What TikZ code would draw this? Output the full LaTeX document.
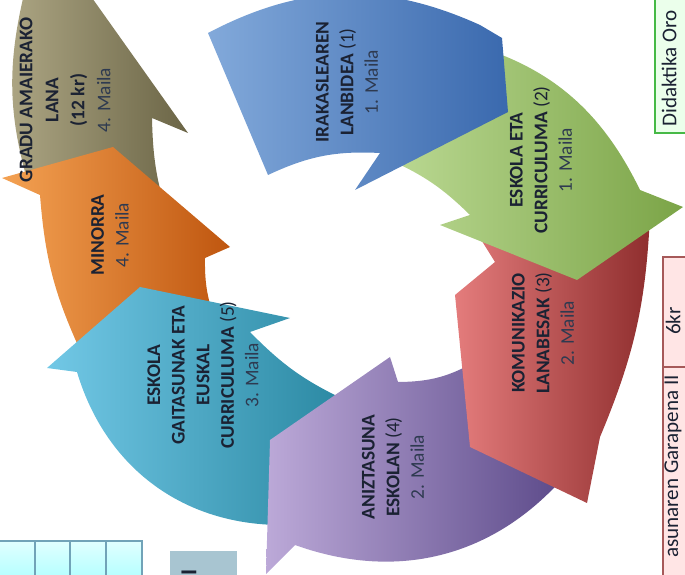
\documentclass[tikz,border=0pt]{standalone}
\usepackage{fontspec}
\setmainfont{Carlito}
\usetikzlibrary{positioning}
\definecolor{bluelt}{HTML}{82A9DA}
\definecolor{bluedk}{HTML}{3A69AE}
\definecolor{greenlt}{HTML}{BBD993}
\definecolor{greendk}{HTML}{7BA447}
\definecolor{redlt}{HTML}{E47C7C}
\definecolor{reddk}{HTML}{8F2E2E}
\definecolor{purplt}{HTML}{BCA9D8}
\definecolor{purpdk}{HTML}{5A4888}
\definecolor{teallt}{HTML}{72C8E6}
\definecolor{tealdk}{HTML}{2A88A2}
\definecolor{orglt}{HTML}{F4A253}
\definecolor{orgdk}{HTML}{BF560F}
\definecolor{goldlt}{HTML}{ADA684}
\definecolor{golddk}{HTML}{6B6546}
\definecolor{txtdk}{HTML}{1B2233}
\definecolor{mailatxt}{HTML}{2E3A50}
\tikzset{seg/.style args={#1 and #2}{left color=#1, right color=#2, draw=none}}
\tikzset{lbl/.style={rotate=90, align=center, text=txtdk, inner sep=0pt, font=\fontsize{11}{14}\selectfont}}
\tikzset{maila/.style={text=mailatxt}}
\tikzset{sidebox/.style={draw=#1, line width=0.8pt}}

\begin{document}
\begin{tikzpicture}[x=0.02cm, y=0.02cm]
	\useasboundingbox (0,0) rectangle (685,574);
	\clip (0,0) rectangle (685,574);
	% boxes cut off at the edges
	\draw[sidebox=green!45!gray, fill=green!8] (655,441) rectangle (700,590);
	\draw[sidebox=gray!70!red, fill=red!10] (663,-10) rectangle (700,317);
	\draw[sidebox=gray!70!red] (663,207) -- (700,207);
	\draw[sidebox=cyan!40!gray, top color=cyan!12, bottom color=cyan!30] (-5,-5) rectangle (142,33);
	\foreach \cx in {35,70,106}
		\draw[sidebox=cyan!40!gray] (\cx,-5) -- (\cx,33);
	\fill[cyan!35!gray!60] (170,-5) rectangle (237,23);
	%
	% the ring, last arrow first
	\path[seg=goldlt and golddk] (30,384) to[bend left=15] (25,584) -- (40,614) -- (85,586)
		-- (188,441) -- (152,456) to[bend right=10] (175,339) -- cycle;
	\path[seg=orglt and orgdk] (80,224) to[bend left=10] (40,379) -- (2,396) -- (113,427)
		-- (230,327) -- (205,316) to[bend right=10] (215,254) -- cycle;
	\path[seg=teallt and tealdk] (285,49) to[bend left=37] (77,202) -- (47,206) -- (140,287)
		-- (290,256) -- (250,242) to[bend right=10] (345,174) -- cycle;
	\path[seg=purplt and purpdk] (570,104) to[bend left=35] (295,29) -- (266,0) -- (270,134)
		-- (390,217) -- (398,192) to[bend right=15] (478,214) -- cycle;
	\path[seg=redlt and reddk] (650,359) to[bend left=10] (600,137) -- (587,71) -- (470,127)
		-- (455,279) -- (495,312) -- (480,336) -- cycle;
	\path[seg=greenlt and greendk] (455,534) to[bend left=25] (640,384) -- (683,367) -- (577,294)
		-- (440,349) -- (470,359) to[bend right=10] (390,414) -- cycle;
	\path[seg=bluelt and bluedk] (208,541) to[bend left=26] (480,549) -- (502,536) -- (508,462)
		-- (355,384) -- (380,421) to[bend right=14] (268,399) -- cycle;
	%
	\node[lbl] (s1) at (347,492) {\textbf{IRAKASLEAREN}\\\textbf{LANBIDEA} (1)\\{\color{mailatxt}1. Maila}};
	\node[lbl] (s2) at (541,414) {\textbf{ESKOLA ETA}\\\textbf{CURRICULUMA} (2)\\{\color{mailatxt}1. Maila}};
	\node[lbl] (s3) at (543,241) {\textbf{KOMUNIKAZIO}\\\textbf{LANABESAK} (3)\\{\color{mailatxt}2. Maila}};
	\node[lbl] (s4) at (393,107) {\textbf{ANIZTASUNA}\\\textbf{ESKOLAN} (4)\\{\color{mailatxt}2. Maila}};
	\node[lbl] (s5) at (203,199) {\textbf{ESKOLA}\\\textbf{GAITASUNAK ETA}\\\textbf{EUSKAL}\\\textbf{CURRICULUMA} (5)\\{\color{mailatxt}3. Maila}};
	\node[lbl] (s6) at (110,339) {\textbf{MINORRA}\\{\color{mailatxt}4. Maila}};
	\node[lbl, font=\fontsize{11}{14.8}\selectfont] (s7) at (65,474) {\textbf{GRADU AMAIERAKO}\\\textbf{LANA}\\\textbf{(12 kr)}\\{\color{mailatxt}4. Maila}};
	%
	\node[lbl, anchor=west, font=\fontsize{12}{14}\selectfont] (dida) at (669,447) {Didaktika Oro};
	\node[lbl, font=\fontsize{12}{14}\selectfont] (kr) at (673,253) {6kr};
	\node[lbl, anchor=east, font=\fontsize{12}{14}\selectfont] (gar) at (673,199) {asunaren Garapena II};
	\node[lbl, font=\bfseries\fontsize{13}{13}\selectfont] (frag) at (189,2) {I};
\end{tikzpicture}
\end{document}
